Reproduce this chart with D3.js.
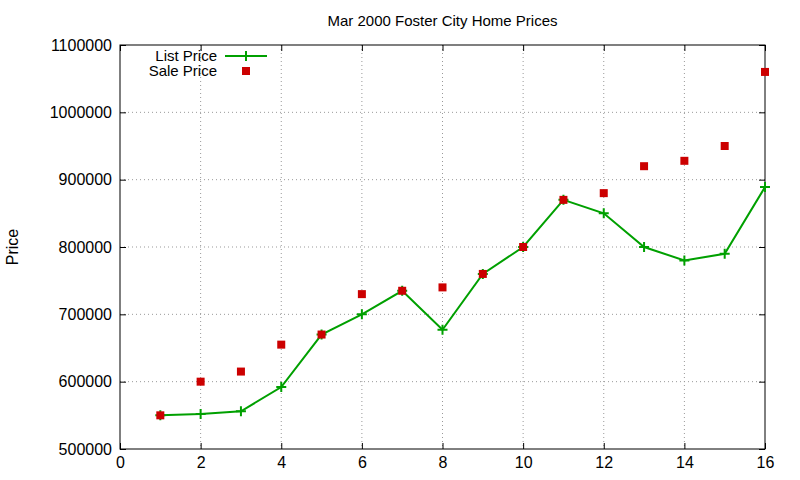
<!DOCTYPE html>
<html>
<head>
<meta charset="utf-8">
<script src="https://cdn.jsdelivr.net/npm/d3@7"></script>
<style>
  body { margin: 0; background: #fff; }
  text { font-family: "Liberation Sans", Arial, sans-serif; }
</style>
</head>
<body>
<div id="chart"></div>
<script>
// Chart size and plot margins (gnuplot style)
const w = 800;
const h = 480;
const margin = { left: 120, right: 35, top: 45, bottom: 31 };

// Data
const months = [1, 2, 3, 4, 5, 6, 7, 8, 9, 10, 11, 12, 13, 14, 15, 16];
const listPrice = [550000, 552000, 556000, 592000, 670000, 700000, 735000, 677000,
  760000, 800000, 870000, 850000, 800000, 780000, 790000, 889000];
const salePrice = [550000, 600000, 615000, 655000, 670000, 730000, 735000, 740000,
  760000, 800000, 870000, 880000, 920000, 928000, 950000, 1060000];
const xTicks = [0, 2, 4, 6, 8, 10, 12, 14, 16];
const yTicks = [500000, 600000, 700000, 800000, 900000, 1000000, 1100000];

const svg = d3.select("#chart").append("svg")
  .attr("width", w)
  .attr("height", h);

const xScale = d3.scaleLinear().domain([0, 16]).range([margin.left, w - margin.right]);
const yScale = d3.scaleLinear().domain([500000, 1100000]).range([h - margin.bottom, margin.top]);

// Grid lines
svg.append("g").selectAll("line.gx")
  .data(xTicks.slice(1, -1))
  .enter().append("line")
  .attr("x1", d => xScale(d)).attr("x2", d => xScale(d))
  .attr("y1", margin.top).attr("y2", h - margin.bottom)
  .attr("stroke", "#999").attr("stroke-dasharray", "1,3");

svg.append("g").selectAll("line.gy")
  .data(yTicks.slice(1, -1))
  .enter().append("line")
  .attr("x1", margin.left).attr("x2", w - margin.right)
  .attr("y1", d => yScale(d)).attr("y2", d => yScale(d))
  .attr("stroke", "#999").attr("stroke-dasharray", "1,3");

// Axes with inward ticks, mirrored on opposite sides
svg.append("g")
  .attr("transform", `translate(0,${h - margin.bottom})`)
  .call(d3.axisBottom(xScale).tickValues(xTicks).tickSizeInner(-6).tickSizeOuter(0).tickPadding(8))
  .call(g => g.select(".domain").remove());
svg.append("g")
  .attr("transform", `translate(0,${margin.top})`)
  .call(d3.axisTop(xScale).tickValues(xTicks).tickSizeInner(-6).tickSizeOuter(0).tickFormat(""))
  .call(g => g.select(".domain").remove());
svg.append("g")
  .attr("transform", `translate(${margin.left},0)`)
  .call(d3.axisLeft(yScale).tickValues(yTicks).tickSizeInner(-6).tickSizeOuter(0).tickPadding(8).tickFormat(d3.format("d")))
  .call(g => g.select(".domain").remove());
svg.append("g")
  .attr("transform", `translate(${w - margin.right},0)`)
  .call(d3.axisRight(yScale).tickValues(yTicks).tickSizeInner(-6).tickSizeOuter(0).tickFormat(""))
  .call(g => g.select(".domain").remove());

svg.selectAll(".tick text").attr("font-size", 16).attr("fill", "#000")
  .style("font-family", "'Liberation Sans', Arial, sans-serif");

// Border
svg.append("rect")
  .attr("x", margin.left).attr("y", margin.top)
  .attr("width", w - margin.left - margin.right)
  .attr("height", h - margin.top - margin.bottom)
  .attr("fill", "none").attr("stroke", "#000");

// Title and axis label
svg.append("text")
  .attr("x", (margin.left + w - margin.right) / 2).attr("y", 26)
  .attr("text-anchor", "middle").attr("font-size", 15)
  .text("Mar 2000 Foster City Home Prices");
svg.append("text")
  .attr("transform", `translate(18,${(margin.top + h - margin.bottom) / 2}) rotate(-90)`)
  .attr("text-anchor", "middle").attr("font-size", 16)
  .text("Price");

const green = "#00a000";
const red = "#cc0000";

// List price line with plus markers
const line = d3.line().x((d, i) => xScale(months[i])).y(d => yScale(d));
svg.append("path").datum(listPrice)
  .attr("d", line).attr("fill", "none").attr("stroke", green).attr("stroke-width", 2);

function plus(g, x, y) {
  g.append("path")
    .attr("d", `M${x - 5},${y}H${x + 5}M${x},${y - 5}V${y + 5}`)
    .attr("stroke", green).attr("stroke-width", 2);
}
const plusG = svg.append("g");
listPrice.forEach((d, i) => plus(plusG, xScale(months[i]), yScale(d)));

// Sale price squares (drawn after the list series, on top)
svg.append("g").selectAll("rect")
  .data(salePrice)
  .enter().append("rect")
  .attr("x", (d, i) => xScale(months[i]) - 4)
  .attr("y", d => yScale(d) - 4)
  .attr("width", 8).attr("height", 8)
  .attr("fill", red);

// Legend
svg.append("text").attr("x", 217).attr("y", 61).attr("text-anchor", "end")
  .attr("font-size", 15).text("List Price");
svg.append("line").attr("x1", 225).attr("x2", 267).attr("y1", 56).attr("y2", 56)
  .attr("stroke", green).attr("stroke-width", 2);
plus(svg, 246, 56);
svg.append("text").attr("x", 217).attr("y", 76).attr("text-anchor", "end")
  .attr("font-size", 15).text("Sale Price");
svg.append("rect").attr("x", 242).attr("y", 67).attr("width", 8).attr("height", 8)
  .attr("fill", red);
</script>
</body>
</html>
